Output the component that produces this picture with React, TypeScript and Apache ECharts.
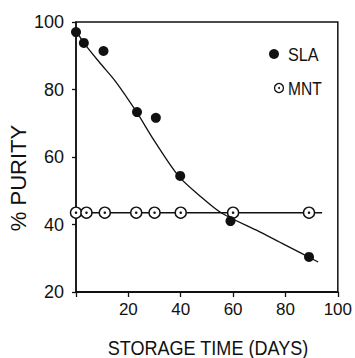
import React, { useEffect, useRef } from "react";
import * as echarts from "echarts";

const xTicks = [0, 20, 40, 60, 80, 100];
const yTicks = [20, 40, 60, 80, 100];

// SLA measured points [days, % purity]
const slaDays = [0, 3, 10.5, 23.3, 30.5, 39.8, 59, 89];
const slaPurity = [97, 93.8, 91.4, 73.3, 71.6, 54.4, 41, 30.4];

// SLA fitted curve
const slaFitDays = [0, 3, 9, 15, 23, 30, 39, 47, 55.6, 70, 80, 92.5];
const slaFitPurity = [97.5, 93.8, 88, 82.5, 73.5, 64.7, 54.5, 48.7, 43.4, 37.9, 33.9, 28.9];

// MNT measured points
const mntDays = [0, 4, 11, 23, 30, 40, 60, 89];
const mntPurity = [43.5, 43.5, 43.5, 43.5, 43.5, 43.5, 43.5, 43.5];

// MNT fitted line
const mntFitDays = [0, 94];
const mntFitPurity = [43.5, 43.5];

const seriesNames = ["SLA", "MNT"];
const xTitle = "STORAGE TIME (DAYS)";
const yTitle = "% PURITY";

const pair = (xs: number[], ys: number[]) => xs.map((x, i) => [x, ys[i]]);

export default function App() {
  const ref = useRef<HTMLDivElement>(null);
  useEffect(() => {
    if (!ref.current) return;
    const chart = echarts.init(ref.current, undefined, { renderer: "svg" });
    const sans = "Liberation Sans";
    chart.setOption({
      animation: false,
      backgroundColor: "#fff",
      grid: {
        left: 76,
        right: 13,
        top: 22,
        bottom: 66,
        show: true,
        borderColor: "#111",
        borderWidth: 1.5,
      },
      xAxis: {
        type: "value",
        min: xTicks[0],
        max: xTicks[xTicks.length - 1],
        interval: 20,
        axisLine: { lineStyle: { color: "#111", width: 1.8 } },
        axisTick: { show: true, inside: false, length: 5, lineStyle: { color: "#111", width: 1.3 } },
        axisLabel: {
          color: "#111",
          fontFamily: sans,
          fontSize: 17,
          margin: 9,
          formatter: (v: number) => (v === 0 ? "" : String(v)),
        },
        splitLine: { show: false },
      },
      yAxis: {
        type: "value",
        min: yTicks[0],
        max: yTicks[yTicks.length - 1],
        interval: 20,
        axisLine: { show: true, lineStyle: { color: "#111", width: 1.5 } },
        axisTick: { show: true, inside: false, length: 4, lineStyle: { color: "#111", width: 1.3 } },
        axisLabel: {
          color: "#111",
          fontFamily: sans,
          fontSize: 18,
          margin: 12,
        },
        splitLine: { show: false },
      },
      graphic: [
        {
          type: "text",
          x: 208,
          y: 347,
          scaleX: 0.86,
          style: {
            text: xTitle,
            fontFamily: sans,
            fontSize: 21,
            fill: "#111",
            textAlign: "center",
            textVerticalAlign: "middle",
          },
        },
        {
          type: "text",
          x: 18,
          y: 178,
          rotation: Math.PI / 2,
          style: {
            text: yTitle,
            fontFamily: sans,
            fontSize: 22,
            fill: "#111",
            textAlign: "center",
            textVerticalAlign: "middle",
          },
        },
        { type: "circle", shape: { cx: 274, cy: 54, r: 5 }, style: { fill: "#111" } },
        {
          type: "text",
          x: 288,
          y: 55,
          scaleX: 0.9,
          style: { text: seriesNames[0], fontFamily: sans, fontSize: 18, fill: "#111", textVerticalAlign: "middle" },
        },
        { type: "circle", shape: { cx: 279, cy: 88, r: 4.5 }, style: { fill: "#fff", stroke: "#111", lineWidth: 1.3 } },
        { type: "circle", shape: { cx: 279, cy: 88, r: 1 }, style: { fill: "#111" } },
        {
          type: "text",
          x: 288,
          y: 88,
          scaleX: 0.82,
          style: { text: seriesNames[1], fontFamily: sans, fontSize: 19, fill: "#111", textVerticalAlign: "middle" },
        },
      ],
      series: [
        {
          name: "SLA fit",
          type: "line",
          data: pair(slaFitDays, slaFitPurity),
          smooth: 0.3,
          symbol: "none",
          lineStyle: { color: "#111", width: 1.3 },
          z: 2,
        },
        {
          name: "MNT fit",
          type: "line",
          data: pair(mntFitDays, mntFitPurity),
          symbol: "none",
          lineStyle: { color: "#111", width: 1.5 },
          z: 2,
        },
        {
          name: seriesNames[1],
          type: "scatter",
          data: pair(mntDays, mntPurity),
          symbol: "circle",
          symbolSize: 11,
          itemStyle: { color: "#fff", borderColor: "#111", borderWidth: 1.4, opacity: 1 },
          z: 3,
        },
        {
          name: "MNT centre",
          type: "scatter",
          data: pair(mntDays, mntPurity),
          symbol: "circle",
          symbolSize: 2.5,
          itemStyle: { color: "#111", opacity: 1 },
          z: 4,
        },
        {
          name: seriesNames[0],
          type: "scatter",
          data: pair(slaDays, slaPurity),
          symbol: "circle",
          symbolSize: 10,
          itemStyle: { color: "#111", opacity: 1 },
          z: 5,
        },
      ],
    });
    return () => chart.dispose();
  }, []);
  return (
    <div
      ref={ref}
      style={{ position: "fixed", left: 0, top: 0, width: 355, height: 358, background: "#fff" }}
    />
  );
}
